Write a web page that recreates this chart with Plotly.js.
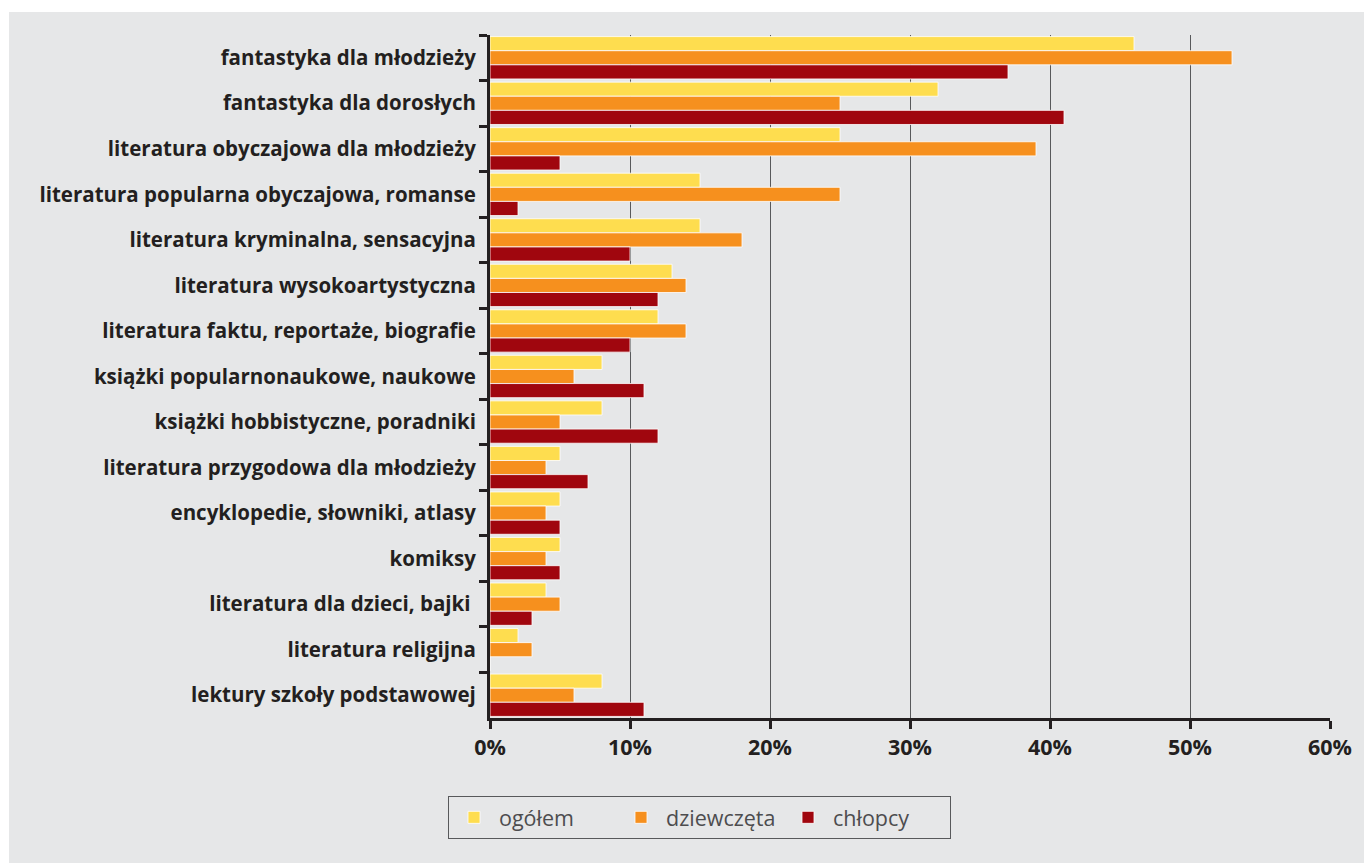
<!DOCTYPE html>
<html>
<head>
<meta charset="utf-8">
<script src="https://cdn.plot.ly/plotly-3.0.1.min.js"></script>
<style>html,body{margin:0;padding:0;background:#fff;}#chart{width:1364px;height:863px;}</style>
</head>
<body>
<div id="chart"></div>
<script>
const categories = [
  "fantastyka dla młodzieży",
  "fantastyka dla dorosłych",
  "literatura obyczajowa dla młodzieży",
  "literatura popularna obyczajowa, romanse",
  "literatura kryminalna, sensacyjna",
  "literatura wysokoartystyczna",
  "literatura faktu, reportaże, biografie",
  "książki popularnonaukowe, naukowe",
  "książki hobbistyczne, poradniki",
  "literatura przygodowa dla młodzieży",
  "encyklopedie, słowniki, atlasy",
  "komiksy",
  "literatura dla dzieci, bajki ",
  "literatura religijna",
  "lektury szkoły podstawowej"
];
const seriesNames = ["ogółem", "dziewczęta", "chłopcy"];
const ogolem     = [46, 32, 25, 15, 15, 13, 12, 8, 8, 5, 5, 5, 4, 2, 8];
const dziewczeta = [53, 25, 39, 25, 18, 14, 14, 6, 5, 4, 4, 4, 5, 3, 6];
const chlopcy    = [37, 41, 5, 2, 10, 12, 10, 11, 12, 7, 5, 5, 3, 0, 11];
const tickVals = [0, 10, 20, 30, 40, 50, 60];
const tickText = ["0%", "10%", "20%", "30%", "40%", "50%", "60%"];
const colors = ["#fedd4f", "#f6901e", "#a0060e"];

const seriesValues = [ogolem, dziewczeta, chlopcy];
const traces = seriesValues.map((vals, i) => ({
  type: "bar",
  orientation: "h",
  name: seriesNames[i],
  x: vals,
  y: categories,
  marker: {color: colors[i], line: {color: "#ffffff", width: 0.8}},
  hoverinfo: "x+y+name"
}));

const darkText = "#231f20";
const layout = {
  width: 1364,
  height: 863,
  paper_bgcolor: "#e6e7e8",
  plot_bgcolor: "#e6e7e8",
  margin: {l: 490, r: 34, t: 35, b: 145},
  barmode: "group",
  bargap: 0.07,
  bargroupgap: 0,
  showlegend: true,
  font: {family: "Open Sans, sans-serif", color: darkText},
  xaxis: {
    range: [0, 60],
    tickvals: tickVals,
    ticktext: tickText,
    showgrid: true,
    gridcolor: "#58595b",
    gridwidth: 1.2,
    zeroline: false,
    showline: true,
    linecolor: darkText,
    linewidth: 3,
    ticks: "outside",
    ticklen: 8,
    tickwidth: 2.5,
    tickcolor: darkText,
    tickfont: {size: 21.5, color: darkText, weight: 700, family: "Open Sans, sans-serif"},
    fixedrange: true
  },
  yaxis: {
    type: "category",
    autorange: "reversed",
    showgrid: false,
    zeroline: false,
    showline: true,
    linecolor: darkText,
    linewidth: 3,
    ticks: "outside",
    tickson: "boundaries",
    ticklen: 8,
    tickwidth: 2.5,
    tickcolor: darkText,
    ticklabelstandoff: 7,
    tickfont: {size: 20.5, color: darkText, weight: 700, family: "Open Sans, sans-serif"},
    fixedrange: true
  },
  legend: {
    orientation: "h",
    x: -0.05,
    xanchor: "left",
    y: -0.114,
    yanchor: "top",
    bgcolor: "rgba(0,0,0,0)",
    bordercolor: "#58595b",
    borderwidth: 1,
    font: {size: 21.5, color: "#4d4d4f", family: "Open Sans, sans-serif"},
    itemwidth: 40,
    entrywidth: 112,
    entrywidthmode: "pixels",
    traceorder: "normal"
  },
  shapes: [
    {type: "rect", xref: "paper", yref: "paper", x0: -0.6, x1: 1.05, y0: 1.0337, y1: 1.06,
     fillcolor: "#ffffff", line: {width: 0}, layer: "below"},
    {type: "rect", xref: "paper", yref: "paper", x0: -0.6, x1: -0.5726, y0: -0.25, y1: 1.06,
     fillcolor: "#ffffff", line: {width: 0}, layer: "below"}
  ]
};

Plotly.newPlot("chart", traces, layout, {displayModeBar: false});
</script>
</body>
</html>
